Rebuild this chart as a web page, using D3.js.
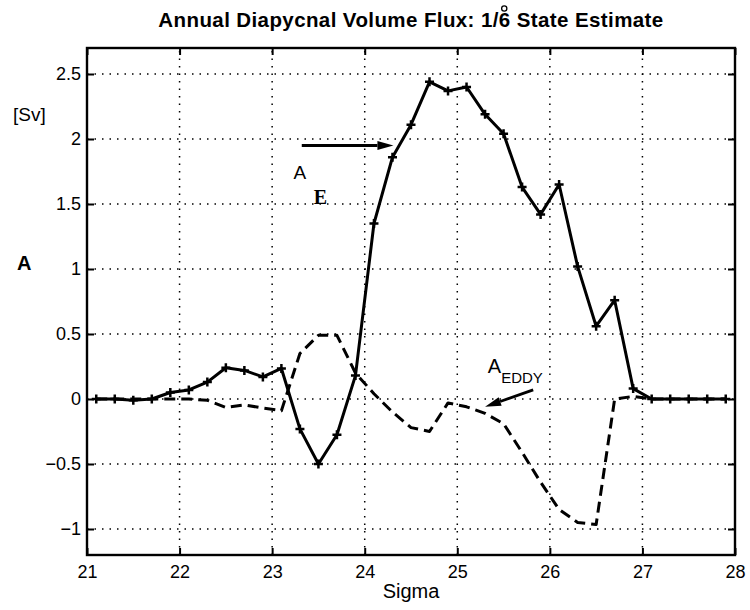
<!DOCTYPE html>
<html>
<head>
<meta charset="utf-8">
<script src="https://cdn.jsdelivr.net/npm/d3@7"></script>
<style>
  body { margin: 0; background: #fff; }
  text { font-family: "Liberation Sans", Arial, Helvetica, sans-serif; fill: #000; }
</style>
</head>
<body>
<svg id="chart" width="750" height="610"></svg>
<script>
// Density classes (sigma) at which the fluxes are evaluated
const sigma = [21.1, 21.3, 21.5, 21.7, 21.9, 22.1, 22.3, 22.5, 22.7, 22.9,
               23.1, 23.3, 23.5, 23.7, 23.9, 24.1, 24.3, 24.5, 24.7, 24.9,
               25.1, 25.3, 25.5, 25.7, 25.9, 26.1, 26.3, 26.5, 26.7, 26.9,
               27.1, 27.3, 27.5, 27.7, 27.9];
// Total diapycnal volume flux A_E [Sv]
const fluxE = [0, 0, -0.01, 0, 0.05, 0.07, 0.13, 0.24, 0.22, 0.17,
               0.235, -0.23, -0.5, -0.275, 0.18, 1.35, 1.86, 2.11, 2.44, 2.37,
               2.40, 2.19, 2.04, 1.63, 1.42, 1.65, 1.02, 0.56, 0.76, 0.08,
               0, 0, 0, 0, 0];
// Eddy contribution A_EDDY [Sv]
const fluxEddy = [0, 0, 0, 0, 0, 0, -0.01, -0.065, -0.045, -0.07,
                  -0.09, 0.35, 0.49, 0.49, 0.2, 0.04, -0.1, -0.22, -0.25, -0.03,
                  -0.06, -0.11, -0.19, -0.41, -0.64, -0.85, -0.95, -0.965, 0, 0.02,
                  0, 0, 0, 0, 0];

const xTicks = [21, 22, 23, 24, 25, 26, 27, 28];
const yTicks = [-1, -0.5, 0, 0.5, 1, 1.5, 2, 2.5];
const yTickLabels = ["\u22121", "\u22120.5", "0", "0.5", "1", "1.5", "2", "2.5"];

const svg = d3.select("#chart");
const x = d3.scaleLinear().domain([21, 28]).range([87, 735]);
const y = d3.scaleLinear().domain([-1.2, 2.7]).range([555, 48]);
const [x0, x1] = x.range();
const [y0, y1] = y.range();

// Dotted grid
const grid = svg.append("g").attr("stroke", "#000").attr("stroke-width", 1.5)
  .attr("stroke-dasharray", "1.5,6").attr("fill", "none");
grid.selectAll("line.v").data(xTicks.slice(1, -1)).join("line")
  .attr("x1", d => x(d)).attr("x2", d => x(d)).attr("y1", y0).attr("y2", y1);
grid.selectAll("line.h").data(yTicks).join("line")
  .attr("x1", x0).attr("x2", x1).attr("y1", d => y(d)).attr("y2", d => y(d));

// Axes with inward ticks on all four sides
const tickLen = 7;
const fmtY = d => yTickLabels[yTicks.indexOf(d)];
function styleAxis(g) {
  g.select(".domain").remove();
  g.selectAll(".tick line").attr("stroke", "#000").attr("stroke-width", 2);
  g.selectAll(".tick text").attr("font-size", 18).attr("fill", "#000")
    .style("font-family", '"Liberation Sans", Arial, sans-serif');
}
svg.append("g").attr("transform", `translate(0,${y0})`)
  .call(d3.axisBottom(x).tickValues(xTicks).tickFormat(d3.format("d")).tickSize(-tickLen).tickPadding(10))
  .call(styleAxis);
svg.append("g").attr("transform", `translate(0,${y1})`)
  .call(d3.axisTop(x).tickValues(xTicks).tickFormat("").tickSize(-tickLen))
  .call(styleAxis);
svg.append("g").attr("transform", `translate(${x0},0)`)
  .call(d3.axisLeft(y).tickValues(yTicks).tickFormat(fmtY).tickSize(-tickLen).tickPadding(6))
  .call(styleAxis);
svg.append("g").attr("transform", `translate(${x1},0)`)
  .call(d3.axisRight(y).tickValues(yTicks).tickFormat("").tickSize(-tickLen))
  .call(styleAxis);

// Axes box
svg.append("rect").attr("x", x0).attr("y", y1).attr("width", x1 - x0).attr("height", y0 - y1)
  .attr("fill", "none").attr("stroke", "#000").attr("stroke-width", 2.4);

// Series
const line = (vals) => d3.line().x((d, i) => x(sigma[i])).y(d => y(d))(vals);

svg.append("path").attr("d", line(fluxEddy))
  .attr("fill", "none").attr("stroke", "#000").attr("stroke-width", 3)
  .attr("stroke-dasharray", "11,6").attr("stroke-linejoin", "round");

svg.append("path").attr("d", line(fluxE))
  .attr("fill", "none").attr("stroke", "#000").attr("stroke-width", 3)
  .attr("stroke-linejoin", "round");

const m = 4.5;
svg.append("g").selectAll("path").data(fluxE).join("path")
  .attr("d", (d, i) => {
    const cx = x(sigma[i]), cy = y(d);
    return `M${cx - m},${cy}H${cx + m}M${cx},${cy - m}V${cy + m}`;
  })
  .attr("stroke", "#000").attr("stroke-width", 2.5);

// Arrow helper
function arrow(xa, ya, xb, yb) {
  const ax = x(xa), ay = y(ya), bx = x(xb), by = y(yb);
  const ang = Math.atan2(by - ay, bx - ax);
  const L = 16, W = 4.5;
  const hx = bx - L * Math.cos(ang), hy = by - L * Math.sin(ang);
  svg.append("line").attr("x1", ax).attr("y1", ay).attr("x2", hx).attr("y2", hy)
    .attr("stroke", "#000").attr("stroke-width", 2.8);
  const px = -Math.sin(ang) * W, py = Math.cos(ang) * W;
  svg.append("path")
    .attr("d", `M${bx},${by}L${hx + px},${hy + py}L${hx - px},${hy - py}Z`)
    .attr("fill", "#000");
}

// A_E annotation
arrow(23.32, 1.95, 24.31, 1.95);
svg.append("text").attr("x", x(23.23)).attr("y", y(1.69)).attr("font-size", 19).text("A");
svg.append("text").attr("x", x(23.45)).attr("y", y(1.5)).attr("font-size", 20)
  .attr("font-weight", "bold").style("font-family", '"Liberation Serif", "Times New Roman", serif').text("E");

// A_EDDY annotation
arrow(25.82, 0.07, 25.3, -0.06);
const te = svg.append("text").attr("x", x(25.33)).attr("y", y(0.2)).attr("font-size", 20);
te.append("tspan").text("A");
te.append("tspan").attr("font-size", 15).attr("dy", 10).text("EDDY");

// Axis labels
svg.append("text").attr("x", (x0 + x1) / 2).attr("y", 598).attr("text-anchor", "middle")
  .attr("font-size", 20).text("Sigma");
svg.append("text").attr("x", 13).attr("y", 121).attr("font-size", 19).text("[Sv]");
svg.append("text").attr("x", 17).attr("y", 270).attr("font-size", 20).attr("font-weight", "bold").text("A");

// Title with degree mark set over the 6
const title = svg.append("text").attr("x", 411).attr("y", 27).attr("text-anchor", "middle")
  .attr("font-size", 20.5).attr("font-weight", "bold").attr("letter-spacing", 0.4)
  .text("Annual Diapycnal Volume Flux: 1/6 State Estimate");
const idx = title.text().indexOf("6");
const ext = title.node().getExtentOfChar(idx);
svg.append("circle").attr("cx", ext.x + ext.width / 2 - 0.5).attr("cy", 8.5).attr("r", 2.6)
  .attr("fill", "none").attr("stroke", "#000").attr("stroke-width", 1.3);
</script>
</body>
</html>
